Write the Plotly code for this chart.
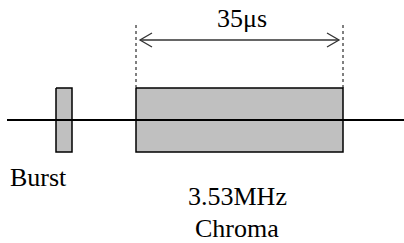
import plotly.graph_objects as go

# Diagram elements (pixel-like units, y downward)
box_names = ["Burst", "Chroma"]
box_x0 = [56, 136]
box_x1 = [72, 343]
box_y0 = [88, 88]
box_y1 = [152, 152]
baseline_x = [7, 404]
baseline_y = [120, 120]
span_label = "35μs"
labels = ["Burst", "3.53MHz", "Chroma"]
label_x = [38, 237, 237]
label_y = [177, 196, 228]

fig = go.Figure()

fig.add_trace(go.Scatter(x=baseline_x, y=baseline_y, mode="lines",
                         line=dict(color="black", width=2), hoverinfo="skip"))
for x0, x1, y0, y1 in zip(box_x0, box_x1, box_y0, box_y1):
    fig.add_trace(go.Scatter(x=[x0, x1, x1, x0, x0], y=[y0, y0, y1, y1, y0],
                             mode="lines", fill="toself", fillcolor="#c0c0c0",
                             line=dict(color="black", width=1.5), hoverinfo="skip"))
fig.add_trace(go.Scatter(x=baseline_x, y=baseline_y, mode="lines",
                         line=dict(color="black", width=2), hoverinfo="skip"))

cx0, cx1 = box_x0[1], box_x1[1]
for xv in [cx0, cx1]:
    fig.add_trace(go.Scatter(x=[xv, xv], y=[25, box_y0[1]], mode="lines",
                             line=dict(color="black", width=1, dash="dot"), hoverinfo="skip"))

ay = 40
ax0, ax1 = cx0 + 4, cx1 - 4
fig.add_trace(go.Scatter(x=[ax0, ax1], y=[ay, ay], mode="lines",
                         line=dict(color="#333333", width=1.3), hoverinfo="skip"))
for tip, d in [(ax0, 1), (ax1, -1)]:
    fig.add_trace(go.Scatter(x=[tip + d * 12, tip, tip + d * 12], y=[ay - 7, ay, ay + 7],
                             mode="lines", line=dict(color="#333333", width=1.3),
                             hoverinfo="skip"))

font = dict(family="Liberation Serif, Times New Roman, serif", size=26, color="black")
fig.add_annotation(x=(cx0 + cx1) / 2 + 2, y=18, text=span_label, showarrow=False,
                   font=font, xanchor="center", yanchor="middle")
for t, x, y in zip(labels, label_x, label_y):
    fig.add_annotation(x=x, y=y, text=t, showarrow=False, font=font,
                       xanchor="center", yanchor="middle")

fig.update_layout(width=404, height=243, margin=dict(l=0, r=0, t=0, b=0),
                  paper_bgcolor="white", plot_bgcolor="white", showlegend=False,
                  xaxis=dict(range=[0, 404], visible=False, fixedrange=True),
                  yaxis=dict(range=[243, 0], visible=False, fixedrange=True))

fig.write_html("out.html", config={"displayModeBar": False},
               post_script="document.body.style.margin='0';document.body.style.overflow='hidden';")
